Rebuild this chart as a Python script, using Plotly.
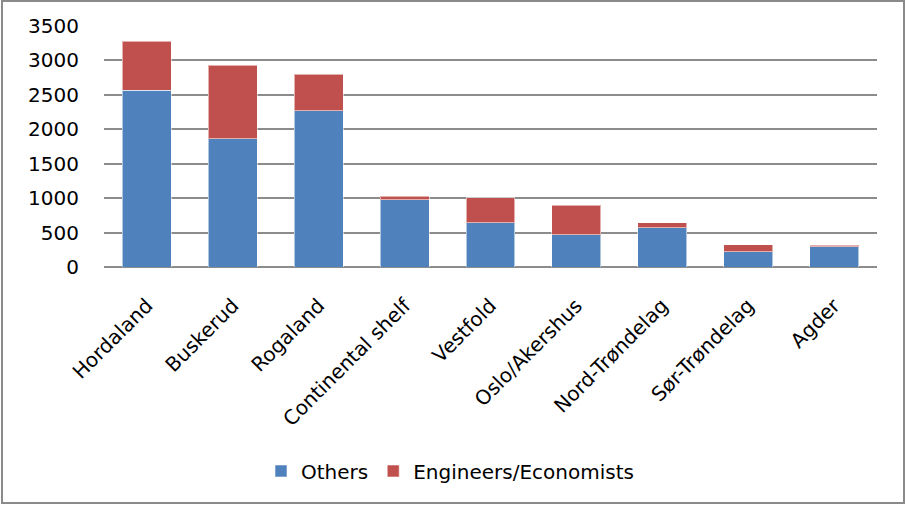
import plotly.graph_objects as go

# Regions and headcounts per group
regions = ["Hordaland", "Buskerud", "Rogaland", "Continental shelf", "Vestfold",
           "Oslo/Akershus", "Nord-Trøndelag", "Sør-Trøndelag", "Agder"]
others = [2570, 1865, 2270, 980, 645, 470, 570, 220, 295]
engineers_economists = [710, 1065, 530, 50, 360, 430, 75, 100, 20]
y_ticks = [0, 500, 1000, 1500, 2000, 2500, 3000, 3500]

FONT = "DejaVu Sans"
BLUE = "#4F81BD"
RED = "#C0504D"
GRID = "#8C8C8C"

fig = go.Figure()
fig.add_trace(go.Bar(
    x=regions, y=others, name="Others",
    marker=dict(color=BLUE, line=dict(color="rgba(255,255,255,0.55)", width=1)),
))
fig.add_trace(go.Bar(
    x=regions, y=engineers_economists, name="Engineers/Economists",
    marker=dict(color=RED, line=dict(color="rgba(255,255,255,0.55)", width=1)),
))

L, R, T, B = 104, 29, 26, 238
W, H = 906, 505
pw, ph = W - L - R, H - T - B

fig.update_layout(
    barmode="stack",
    bargap=0.43,
    width=W, height=H,
    margin=dict(l=L, r=R, t=T, b=B, pad=0),
    paper_bgcolor="white",
    plot_bgcolor="white",
    font=dict(family=FONT, size=20, color="black"),
    showlegend=True,
    legend=dict(
        orientation="h",
        x=(450 - L) / pw, xanchor="center",
        y=(H - B - 471) / ph, yanchor="middle",
        font=dict(family=FONT, size=20, color="black"),
        itemwidth=30,
        traceorder="normal",
    ),
    xaxis=dict(
        tickangle=-45,
        tickfont=dict(family=FONT, size=20, color="black"),
        showline=False,
        showgrid=False,
        ticks="",
        ticklabelstandoff=22,
    ),
    yaxis=dict(
        range=[0, 3500],
        tickvals=y_ticks,
        ticktext=[str(v) for v in y_ticks],
        tickfont=dict(family=FONT, size=20, color="black"),
        showgrid=True,
        gridcolor=GRID,
        gridwidth=1.6,
        zeroline=True,
        zerolinecolor=GRID,
        zerolinewidth=1.6,
        showline=False,
        ticks="",
        ticklabelstandoff=24,
    ),
    shapes=[dict(
        type="rect", xref="paper", yref="paper",
        x0=(2 - L) / pw, x1=(904 - L) / pw,
        y0=(H - B - 503) / ph, y1=(H - B - 1) / ph,
        line=dict(color="#8A8A8A", width=2),
        fillcolor="rgba(0,0,0,0)",
        layer="below",
    )],
)

fig.write_html("out.html")
